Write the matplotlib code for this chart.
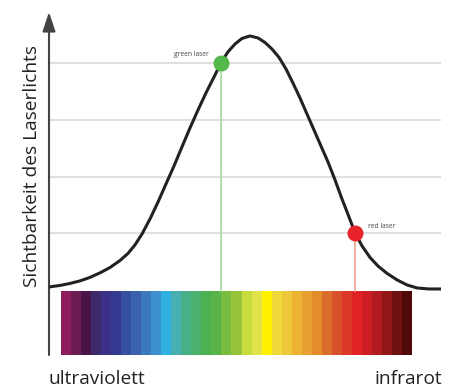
import matplotlib
matplotlib.use("Agg")
import matplotlib.pyplot as plt
import numpy as np

plt.rcParams['font.family'] = ['Open Sans', 'DejaVu Sans']

# curve: x = position along spectrum (%), y = visibility
curve_x = [0, 2.8, 5.36, 7.91, 10.46, 13.01, 15.56, 18.11, 20.15, 21.94,
           23.72, 25.77, 27.81, 29.85, 31.89, 33.93, 35.97, 38.01, 40.05,
           42.09, 43.88, 45.66, 47.45, 49.23, 51.28, 53.32, 55.10, 56.89,
           58.67, 60.46, 62.24, 64.03, 65.82, 67.60, 69.39, 71.17, 72.96,
           74.74, 76.53, 78.06, 79.85, 81.89, 83.93, 86.22, 88.78, 91.33,
           93.88, 96.94, 100]
curve_y = [0.004, 0.010, 0.018, 0.028, 0.042, 0.060, 0.081, 0.109, 0.137,
           0.171, 0.214, 0.274, 0.341, 0.413, 0.484, 0.560, 0.635, 0.706,
           0.774, 0.837, 0.893, 0.937, 0.968, 0.990, 1.0, 0.992, 0.974,
           0.948, 0.915, 0.869, 0.813, 0.754, 0.690, 0.627, 0.563, 0.500,
           0.429, 0.353, 0.282, 0.218, 0.167, 0.121, 0.087, 0.058, 0.032,
           0.012, 0.0, -0.004, -0.004]

grid_levels = [0.218, 0.440, 0.667, 0.893]

laser_names = ["green laser", "red laser"]
laser_x = [43.88, 78.06]
laser_y = [0.893, 0.218]
laser_colors = ["#55b84a", "#e8232a"]
laser_line_colors = ["#aadca2", "#f5a894"]

spectrum_colors = ["#8c1c5c", "#6c1a52", "#4a1448", "#3e2a6a", "#3a3088",
                   "#353a90", "#34509e", "#3a62ae", "#3c78bc", "#3a90cc",
                   "#30b0e0", "#48b0b0", "#48b088", "#4cb070", "#4ab050",
                   "#58b448", "#78bc40", "#98c43c", "#c8dc40", "#e0e448",
                   "#fff200", "#f0d838", "#eec838", "#ecb432", "#e8a030",
                   "#e48c2c", "#dc6c2c", "#d85028", "#dc3828", "#e02426",
                   "#cc1e24", "#b01c22", "#901618", "#701010", "#500808"]
spec_start, spec_end = 3.06, 92.6
spec_top, spec_bottom = -0.012, -0.266

fig = plt.figure(figsize=(4.51, 3.91), dpi=100)
ax = fig.add_axes([49/451, (391-355)/391, 392/451, (355-12)/391])
ax.set_xlim(0, 100)
ax.set_ylim(spec_bottom, 1.095)

for g in grid_levels:
    ax.axhline(g, color="#e0e0e0", lw=1.5, zorder=1)

# spectrum bar
w = (spec_end - spec_start) / len(spectrum_colors)
lefts = spec_start + w * np.arange(len(spectrum_colors))
ax.bar(lefts, spec_top - spec_bottom, width=w, bottom=spec_bottom,
       color=spectrum_colors, align="edge", linewidth=0, zorder=2)

ax.plot(curve_x, curve_y, color="#222222", lw=2.2, zorder=4,
        solid_joinstyle="round", solid_capstyle="round")

for name, lx, ly, c, lc in zip(laser_names, laser_x, laser_y, laser_colors, laser_line_colors):
    ax.plot([lx, lx], [spec_top, ly], color=lc, lw=1.3, zorder=3)
    ax.plot(lx, ly, "o", ms=11.5, color=c, mec="none", zorder=5)

ax.text(laser_x[0] - 3.2, laser_y[0] + 0.035, laser_names[0], fontsize=4.8,
        color="#444444", ha="right", va="center")
ax.text(laser_x[1] + 3.3, laser_y[1] + 0.025, laser_names[1], fontsize=4.8,
        color="#444444", ha="left", va="center")

for s in ax.spines.values():
    s.set_visible(False)
ax.set_xticks([])
ax.set_yticks([])

# y axis with arrow
ax.annotate("", xy=(0, 1.0), xytext=(0, 0), xycoords="axes fraction",
            arrowprops=dict(arrowstyle="-|>,head_length=0.9,head_width=0.3",
                            color="#444444", lw=1.5,
                            mutation_scale=13, shrinkA=0, shrinkB=0))

fig.text(32/451, 1 - 166/391, "Sichtbarkeit des Laserlichts", rotation=90,
         ha="center", va="center", fontsize=13.8, color="#222222")
fig.text(49/451, 1 - 379/391, "ultraviolett", ha="left", va="center",
         fontsize=13.8, color="#222222")
fig.text(442/451, 1 - 379/391, "infrarot", ha="right", va="center",
         fontsize=13.8, color="#222222")

fig.savefig("out.png", dpi=100)
